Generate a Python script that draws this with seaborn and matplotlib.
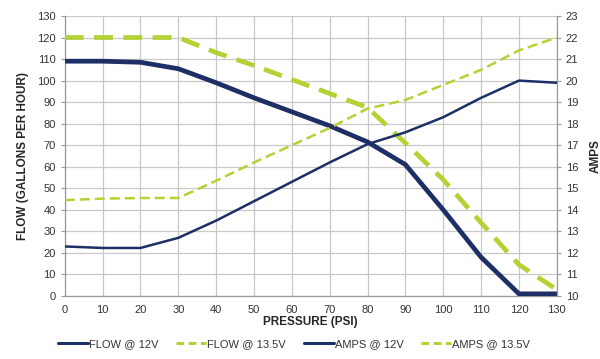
import pandas as pd
import matplotlib
matplotlib.use('Agg')
import matplotlib.pyplot as plt
import seaborn as sns
from matplotlib.lines import Line2D

# data
pressure = [0, 10, 20, 30, 40, 50, 60, 70, 80, 90, 100, 110, 120, 130]
flow_12v = [109, 109, 108.5, 105.5, 99, 92, 85.5, 79, 71.5, 61, 40, 18, 1, 1]
flow_135v = [120, 120, 120, 120, 113, 107, 100.5, 94, 87.5, 71, 54, 34, 14.5, 3]
amps_12v = [12.3, 12.23, 12.23, 12.7, 13.5, 14.4, 15.3, 16.2, 17.05, 17.6, 18.3, 19.2, 20.0, 19.9]
amps_135v = [14.45, 14.52, 14.55, 14.55, 15.35, 16.2, 17.0, 17.8, 18.7, 19.1, 19.8, 20.5, 21.4, 22.0]

navy = '#1e2f66'
green = '#b3d234'

df = pd.DataFrame({'pressure': pressure, 'flow12': flow_12v, 'flow135': flow_135v,
                   'amps12': amps_12v, 'amps135': amps_135v})

sns.set_style('white')
plt.rcParams['font.family'] = ['Liberation Sans', 'DejaVu Sans']

fig = plt.figure(figsize=(6, 3.59), dpi=100)
ax = fig.add_axes([0.108, 0.1755, 0.82, 0.78])
ax2 = ax.twinx()

sns.lineplot(data=df, x='pressure', y='flow12', ax=ax, color=navy, lw=3.4, zorder=4)
sns.lineplot(data=df, x='pressure', y='flow135', ax=ax, color=green, lw=3.4, zorder=3)
ax.lines[-1].set_dashes([4, 2.2])
sns.lineplot(data=df, x='pressure', y='amps12', ax=ax2, color=navy, lw=1.8, zorder=4)
sns.lineplot(data=df, x='pressure', y='amps135', ax=ax2, color=green, lw=1.8, zorder=3)
ax2.lines[-1].set_dashes([4, 2])

ax.set_xlim(0, 130)
ax.set_ylim(0, 130)
ax2.set_ylim(10, 23)
ax.set_xticks(range(0, 131, 10))
ax.set_yticks(range(0, 131, 10))
ax2.set_yticks(range(10, 24))

ax.grid(True, color='#c8c8c8', lw=0.9)
ax.set_axisbelow(True)
for a in (ax, ax2):
    for s in a.spines.values():
        s.set_visible(False)
    a.tick_params(colors='#333333', labelsize=8, length=3, width=0.8, color='#999999')
ax.spines['left'].set_visible(True)
ax.spines['bottom'].set_visible(True)
ax2.spines['right'].set_visible(True)
for s in (ax.spines['left'], ax.spines['bottom'], ax2.spines['right']):
    s.set_color('#999999')
    s.set_linewidth(0.9)

ax.set_xlabel('PRESSURE (PSI)', fontsize=8.5, fontweight='bold', labelpad=1)
ax.set_ylabel('FLOW (GALLONS PER HOUR)', fontsize=8.5, fontweight='bold', labelpad=6)
ax2.set_ylabel('AMPS', fontsize=8.5, fontweight='bold', labelpad=8)

handles = [
    Line2D([], [], color=navy, lw=2.2),
    Line2D([], [], color=green, lw=2.2, dashes=[2.5, 1.5]),
    Line2D([], [], color=navy, lw=2.2),
    Line2D([], [], color=green, lw=2.2, dashes=[2.5, 1.5]),
]
labels = ['FLOW @ 12V', 'FLOW @ 13.5V', 'AMPS @ 12V', 'AMPS @ 13.5V']
fig.legend(handles, labels, loc='lower center', bbox_to_anchor=(0.49, 0.0), ncol=4,
           frameon=False, fontsize=8, handlelength=2.7, handletextpad=0.1,
           columnspacing=1.6, labelcolor='#333333')

fig.savefig('out.png', dpi=100)
